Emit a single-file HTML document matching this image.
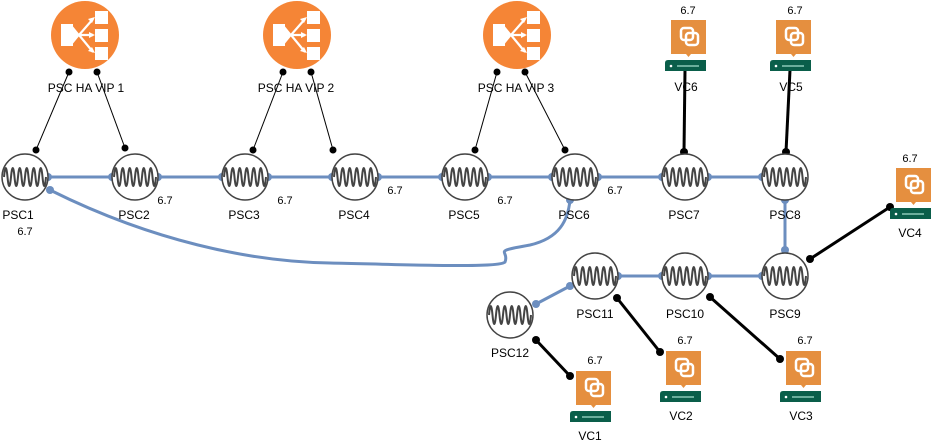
<!DOCTYPE html>
<html><head><meta charset="utf-8"><style>
body{margin:0;background:#fff;}
svg{display:block;font-family:"Liberation Sans",Arial,sans-serif;}
</style></head><body>
<svg width="931" height="444" viewBox="0 0 931 444">
<defs>
<g id="lb">
<circle cx="0" cy="0" r="34" fill="#f58536"/>
<rect x="-24" y="-11" width="12" height="22" fill="#fff"/>
<path d="M-14 -11 L-5 0 L-14 11 Z" fill="#fff"/>
<rect x="10" y="-24" width="13" height="13" fill="#fff"/>
<rect x="10" y="-6" width="13" height="13" fill="#fff"/>
<rect x="10" y="12" width="13" height="13" fill="#fff"/>
<path d="M-6 0 L8 -16 M-6 0 L8 0 M-6 0 L8 17" stroke="#fff" stroke-width="2.2"/>
<path d="M10 -18 L3 -16 L7 -12Z M10 0 L4 -3 L4 3Z M10 18 L3 16 L7 12Z" fill="#fff"/>
</g>
<g id="psc">
<circle cx="0" cy="0" r="23" fill="#fff" stroke="#444" stroke-width="1.5"/>
<path d="M-21 0 q1.75 -18 3.5 0 t3.5 0 t3.5 0 t3.5 0 t3.5 0 t3.5 0 t3.5 0 t3.5 0 t3.5 0 t3.5 0 t3.5 0 t3.5 0" fill="none" stroke="#444" stroke-width="2"/>
</g>
<g id="vc">
<rect x="0" y="0" width="35" height="34" fill="#e58f3f"/>
<path d="M15 34 L17.5 37 L20 34Z" fill="#e58f3f"/>
<rect x="10" y="8" width="12" height="12" rx="3" fill="none" stroke="#fff" stroke-width="2.5"/>
<rect x="15" y="13" width="12" height="12" rx="3" fill="none" stroke="#fff" stroke-width="2.5"/>
<path d="M-6 43 q0 -3 3 -3 L35 40 L35 51 L-6 51Z" fill="#0a5e4a"/>
<circle cx="0" cy="46" r="1.3" fill="#fff"/>
<line x1="6" y1="46" x2="28" y2="46" stroke="#cfe" stroke-width="1"/>
</g>
</defs>
<g font-size="12" fill="#000" text-anchor="middle">
<g stroke="#000" stroke-width="1">
<line x1="69" y1="72" x2="36" y2="150"/><line x1="97" y1="72" x2="125" y2="148"/>
<line x1="283" y1="72" x2="253" y2="150"/><line x1="311" y1="72" x2="333" y2="150"/>
<line x1="497" y1="72" x2="475" y2="150"/><line x1="525" y1="72" x2="565" y2="150"/>
</g>
<g fill="#000">
<circle cx="69" cy="72" r="3.5"/><circle cx="97" cy="72" r="3.5"/><circle cx="36" cy="150" r="3.5"/><circle cx="125" cy="148" r="3.5"/>
<circle cx="283" cy="72" r="3.5"/><circle cx="311" cy="72" r="3.5"/><circle cx="253" cy="150" r="3.5"/><circle cx="333" cy="150" r="3.5"/>
<circle cx="497" cy="72" r="3.5"/><circle cx="525" cy="72" r="3.5"/><circle cx="475" cy="150" r="3.5"/><circle cx="565" cy="150" r="3.5"/>
</g>
<g stroke="#6c8ebf" stroke-width="3" fill="none">
<line x1="48" y1="177" x2="762" y2="177"/>
<line x1="785" y1="200" x2="785" y2="250"/>
<line x1="618" y1="276" x2="762" y2="276"/>
<line x1="570" y1="286" x2="536" y2="304"/>
<path d="M50 190 C150 240 250 262 330 263 C420 265 500 268 505 262 C510 250 490 252 530 245 C560 238 568 220 570 200"/>
</g>
<g fill="#6c8ebf">
<circle cx="48" cy="177" r="4"/><circle cx="50" cy="190" r="4"/><circle cx="112" cy="177" r="4"/><circle cx="158" cy="177" r="4"/>
<circle cx="222" cy="177" r="4"/><circle cx="268" cy="177" r="4"/><circle cx="332" cy="177" r="4"/><circle cx="378" cy="177" r="4"/>
<circle cx="442" cy="177" r="4"/><circle cx="488" cy="177" r="4"/><circle cx="552" cy="177" r="4"/><circle cx="598" cy="177" r="4"/>
<circle cx="662" cy="177" r="4"/><circle cx="708" cy="177" r="4"/><circle cx="762" cy="177" r="4"/><circle cx="570" cy="200" r="4"/>
<circle cx="785" cy="200" r="4"/><circle cx="785" cy="250" r="4"/><circle cx="762" cy="276" r="4"/><circle cx="708" cy="276" r="4"/>
<circle cx="662" cy="276" r="4"/><circle cx="618" cy="276" r="4"/><circle cx="570" cy="286" r="4"/><circle cx="536" cy="304" r="4"/>
</g>
<g stroke="#000" stroke-width="3">
<line x1="685" y1="70" x2="684" y2="152"/><line x1="790" y1="70" x2="786" y2="152"/>
<line x1="810" y1="259" x2="890" y2="207"/><line x1="536" y1="340" x2="570" y2="376"/>
<line x1="617" y1="298" x2="660" y2="352"/><line x1="710" y1="297" x2="780" y2="359"/>
</g>
<g fill="#000">
<circle cx="684" cy="152" r="4"/><circle cx="786" cy="152" r="4"/><circle cx="810" cy="259" r="4"/><circle cx="890" cy="207" r="4"/>
<circle cx="536" cy="340" r="4"/><circle cx="570" cy="376" r="4"/><circle cx="617" cy="298" r="4"/><circle cx="660" cy="352" r="4"/>
<circle cx="710" cy="297" r="4"/><circle cx="780" cy="359" r="4"/>
</g>
<use href="#lb" x="85" y="35"/><use href="#lb" x="297" y="35"/><use href="#lb" x="517" y="35"/>
<text x="86" y="92">PSC HA VIP 1</text><text x="296" y="92">PSC HA VIP 2</text><text x="516" y="92">PSC HA VIP 3</text>
<use href="#psc" x="25" y="177"/><use href="#psc" x="135" y="177"/><use href="#psc" x="245" y="177"/><use href="#psc" x="355" y="177"/>
<use href="#psc" x="465" y="177"/><use href="#psc" x="575" y="177"/><use href="#psc" x="685" y="177"/><use href="#psc" x="785" y="177"/>
<use href="#psc" x="785" y="276"/><use href="#psc" x="685" y="276"/><use href="#psc" x="595" y="276"/><use href="#psc" x="510" y="315"/>
<text x="18" y="219">PSC1</text><text x="134" y="219">PSC2</text><text x="244" y="219">PSC3</text><text x="354" y="219">PSC4</text>
<text x="464" y="219">PSC5</text><text x="574" y="219">PSC6</text><text x="684" y="219">PSC7</text><text x="785" y="219">PSC8</text>
<text x="785" y="318">PSC9</text><text x="685" y="318">PSC10</text><text x="595" y="318">PSC11</text><text x="510" y="357">PSC12</text>
<g font-size="11">
<text x="25" y="235">6.7</text><text x="165" y="204">6.7</text><text x="285" y="204">6.7</text><text x="395" y="194">6.7</text>
<text x="505" y="204">6.7</text><text x="615" y="194">6.7</text>
<text x="688" y="14">6.7</text><text x="795" y="14">6.7</text><text x="910" y="162">6.7</text>
<text x="595" y="364">6.7</text><text x="685" y="344">6.7</text><text x="805" y="344">6.7</text>
</g>
<use href="#vc" x="671" y="20"/><use href="#vc" x="776" y="20"/><use href="#vc" x="896" y="168"/>
<use href="#vc" x="576" y="371"/><use href="#vc" x="666" y="351"/><use href="#vc" x="786" y="351"/>
<text x="686" y="91">VC6</text><text x="791" y="91">VC5</text><text x="910" y="237">VC4</text>
<text x="590" y="440">VC1</text><text x="681" y="420">VC2</text><text x="801" y="420">VC3</text>
</g>
</svg>
</body></html>
